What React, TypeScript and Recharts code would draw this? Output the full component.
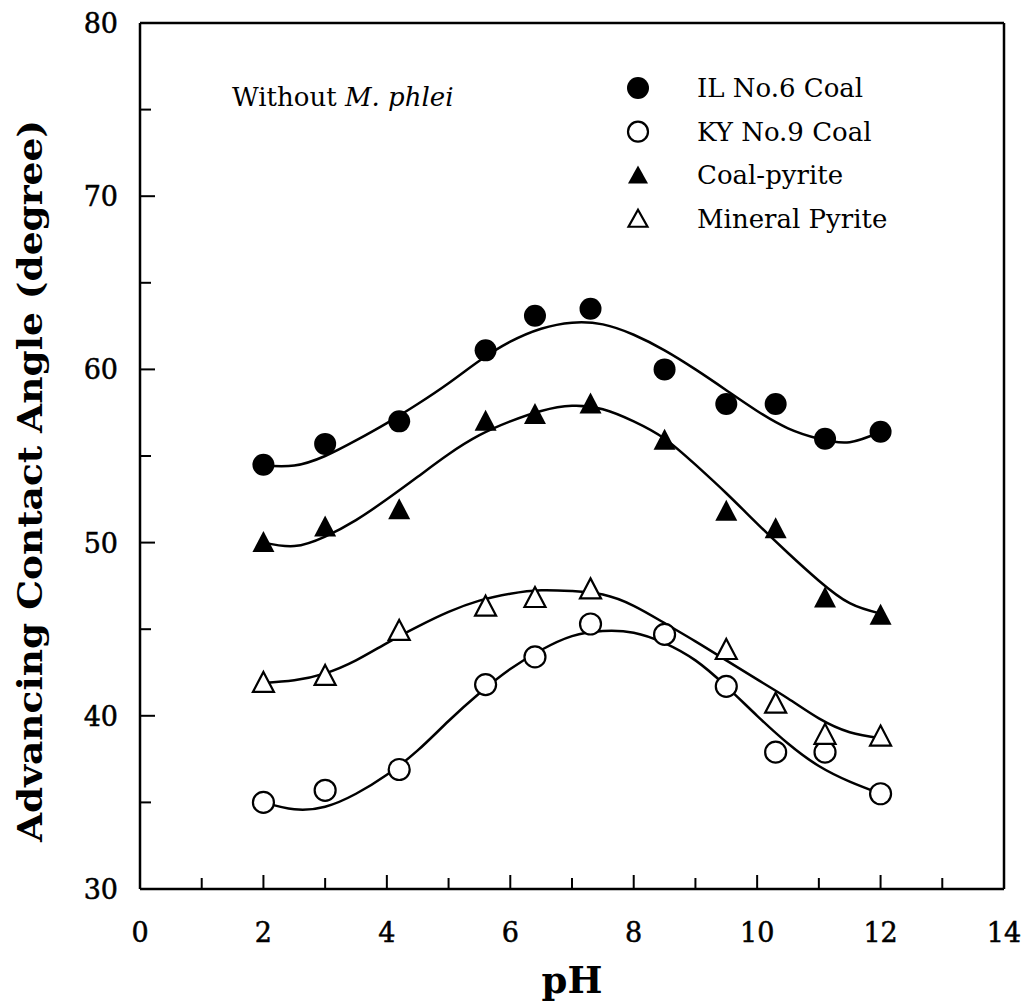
import { ComposedChart, Line, Scatter, XAxis, YAxis } from "recharts";

// measured points
const phPoints = [2, 3, 4.2, 5.6, 6.4, 7.3, 8.5, 9.5, 10.3, 11.1, 12];
const ilCoal = [54.5, 55.7, 57.0, 61.1, 63.1, 63.5, 60.0, 58.0, 58.0, 56.0, 56.4];
const kyCoal = [35.0, 35.7, 36.9, 41.8, 43.4, 45.3, 44.7, 41.7, 37.9, 37.9, 35.5];
const coalPyrite = [50.0, 50.9, 51.9, 57.0, 57.4, 58.0, 55.9, 51.8, 50.8, 46.8, 45.8];
const mineralPh = [2, 3, 4.2, 5.6, 6.4, 7.3, 9.5, 10.3, 11.1, 12];
const mineralPyrite = [41.9, 42.3, 44.9, 46.3, 46.8, 47.3, 43.8, 40.7, 38.9, 38.8];

// fitted curves
const curvePh = [2, 2.5, 3, 3.5, 4, 4.5, 5, 5.5, 6, 6.5, 7, 7.5, 8, 8.5, 9, 9.5, 10, 10.5, 11, 11.5, 12];
const ilFit = [54.45, 54.45, 55.0, 55.9, 56.9, 58.0, 59.2, 60.5, 61.6, 62.35, 62.7, 62.6, 62.0, 61.1, 60.0, 58.8, 57.6, 56.6, 56.0, 55.8, 56.4];
const kyFit = [35.0, 34.6, 34.75, 35.5, 36.6, 38.0, 39.7, 41.3, 42.7, 43.8, 44.6, 44.9, 44.8, 44.2, 43.2, 41.7, 40.0, 38.4, 37.1, 36.2, 35.5];
const cpFit = [50.0, 49.8, 50.35, 51.3, 52.5, 53.8, 55.1, 56.2, 57.0, 57.6, 57.9, 57.7, 57.0, 56.0, 54.5, 52.85, 51.1, 49.4, 47.8, 46.5, 45.9];
const mpFit = [41.9, 42.05, 42.45, 43.2, 44.2, 45.15, 46.0, 46.65, 47.05, 47.25, 47.2, 47.0, 46.35, 45.35, 44.3, 43.2, 42.1, 41.0, 39.85, 39.05, 38.7];

const xTicks = [0, 1, 2, 3, 4, 5, 6, 7, 8, 9, 10, 11, 12, 13, 14];
const yTicks = [30, 35, 40, 45, 50, 55, 60, 65, 70, 75, 80];

const legendItems = ["IL No.6 Coal", "KY No.9 Coal", "Coal-pyrite", "Mineral Pyrite"];

const rows = (xs: number[], ys: number[]) => xs.map((x, i) => ({ x, y: ys[i] }));

const FONT = "DejaVu Serif";
const INK = "#000";

const tri = (cx: number, cy: number, w: number, h: number) =>
  `M${cx},${cy - h * 0.55} L${cx + w / 2},${cy + h * 0.45} L${cx - w / 2},${cy + h * 0.45} Z`;

const FilledCircle = (p: any) => <circle cx={p.cx} cy={p.cy} r={11} fill={INK} />;
const OpenCircle = (p: any) => (
  <circle cx={p.cx} cy={p.cy} r={10.5} fill="#fff" stroke={INK} strokeWidth={2.2} />
);
const FilledTri = (p: any) => <path d={tri(p.cx, p.cy, 22, 21)} fill={INK} />;
const OpenTri = (p: any) => (
  <path d={tri(p.cx, p.cy, 21, 20)} fill="#fff" stroke={INK} strokeWidth={2.2} strokeLinejoin="miter" />
);

const numStyle = { fontFamily: FONT, fontSize: 27, fill: INK, stroke: INK, strokeWidth: 0.5 };

const BottomTick = ({ x, y, payload }: any) => {
  const v = payload.value;
  const major = v % 2 === 0;
  return (
    <g>
      <line x1={x} x2={x} y1={y} y2={y - (major ? 14 : 11)} stroke={INK} strokeWidth={2} />
      {major && (
        <text x={x} y={y + 53} textAnchor="middle" {...numStyle}>
          {v}
        </text>
      )}
    </g>
  );
};

const TopTick = ({ x, y, payload }: any) => {
  const major = payload.value % 2 === 0;
  return <line x1={x} x2={x} y1={y} y2={y + (major ? 14 : 11)} stroke={INK} strokeWidth={2} />;
};

const LeftTick = ({ x, y, payload }: any) => {
  const v = payload.value;
  const major = v % 10 === 0;
  return (
    <g>
      <line x1={x} x2={x + (major ? 15 : 11)} y1={y} y2={y} stroke={INK} strokeWidth={2} />
      {major && (
        <text x={x - 22} y={y + 10} textAnchor="end" {...numStyle}>
          {v}
        </text>
      )}
    </g>
  );
};

const RightTick = ({ x, y, payload }: any) => {
  const major = payload.value % 10 === 0;
  return <line x1={x} x2={x - (major ? 15 : 11)} y1={y} y2={y} stroke={INK} strokeWidth={2} />;
};

const axisLine = { stroke: INK, strokeWidth: 2.5 };

const legendMarks = [
  <circle cx={638} cy={0} r={11} fill={INK} />,
  <circle cx={638} cy={0} r={10} fill="#fff" stroke={INK} strokeWidth={2.2} />,
  <path d={tri(638, 0, 20, 18)} fill={INK} />,
  <path d={tri(638, 0, 19, 17)} fill="#fff" stroke={INK} strokeWidth={2.2} />,
];

export default function App() {
  return (
    <div style={{ position: "absolute", left: 0, top: 0, width: 1025, height: 1005, background: "#fff" }}>
      <ComposedChart width={1025} height={1005} margin={{ top: 0, right: 0, bottom: 0, left: 0 }}>
        <XAxis
          xAxisId="b"
          type="number"
          dataKey="x"
          domain={[0, 14]}
          ticks={xTicks}
          interval={0}
          height={116}
          tickSize={0}
          tickMargin={0}
          tickLine={false}
          axisLine={axisLine}
          tick={BottomTick}
        />
        <XAxis
          xAxisId="t"
          orientation="top"
          type="number"
          dataKey="x"
          domain={[0, 14]}
          ticks={xTicks}
          interval={0}
          height={23}
          tickSize={0}
          tickMargin={0}
          tickLine={false}
          axisLine={axisLine}
          tick={TopTick}
        />
        <YAxis
          yAxisId="l"
          type="number"
          dataKey="y"
          domain={[30, 80]}
          ticks={yTicks}
          interval={0}
          width={140}
          tickSize={0}
          tickMargin={0}
          tickLine={false}
          axisLine={axisLine}
          tick={LeftTick}
        />
        <YAxis
          yAxisId="r"
          orientation="right"
          type="number"
          dataKey="y"
          domain={[30, 80]}
          ticks={yTicks}
          interval={0}
          width={21}
          tickSize={0}
          tickMargin={0}
          tickLine={false}
          axisLine={axisLine}
          tick={RightTick}
        />
        {[ilFit, kyFit, cpFit, mpFit].map((fit, i) => (
          <Line
            key={i}
            xAxisId="b"
            yAxisId="l"
            data={rows(curvePh, fit)}
            dataKey="y"
            type="natural"
            stroke={INK}
            strokeWidth={2.5}
            dot={false}
            activeDot={false}
            isAnimationActive={false}
          />
        ))}
        <Scatter xAxisId="b" yAxisId="l" data={rows(phPoints, ilCoal)} shape={FilledCircle} isAnimationActive={false} />
        <Scatter xAxisId="b" yAxisId="l" data={rows(phPoints, kyCoal)} shape={OpenCircle} isAnimationActive={false} />
        <Scatter xAxisId="b" yAxisId="l" data={rows(phPoints, coalPyrite)} shape={FilledTri} isAnimationActive={false} />
        <Scatter xAxisId="b" yAxisId="l" data={rows(mineralPh, mineralPyrite)} shape={OpenTri} isAnimationActive={false} />
      </ComposedChart>

      <svg
        width={1025}
        height={1005}
        style={{ position: "absolute", left: 0, top: 0, pointerEvents: "none" }}
      >
        <text
          transform="translate(42,481) rotate(-90)"
          textAnchor="middle"
          fontFamily={FONT}
          fontWeight="bold"
          fontSize={34}
          textLength={722}
          lengthAdjust="spacingAndGlyphs"
          fill={INK}
        >
          Advancing Contact Angle (degree)
        </text>
        <text x={572} y={993} textAnchor="middle" fontFamily={FONT} fontWeight="bold" fontSize={37} fill={INK}>
          pH
        </text>
        <text x={232} y={106} fontFamily={FONT} fontSize={26} fill={INK}>
          Without <tspan fontStyle="italic">M. phlei</tspan>
        </text>
        {legendItems.map((label, i) => (
          <g key={label} transform={`translate(0,${88 + i * 43.7})`}>
            {legendMarks[i]}
            <text x={697} y={9} fontFamily={FONT} fontSize={26} fill={INK}>
              {label}
            </text>
          </g>
        ))}
      </svg>
    </div>
  );
}
